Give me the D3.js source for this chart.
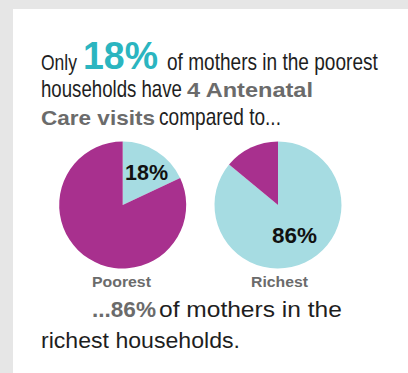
<!DOCTYPE html>
<html><head><meta charset="utf-8">
<script src="https://cdn.jsdelivr.net/npm/d3@7"></script>
<style>
html,body{margin:0;padding:0;background:#e6e6e6;}
svg{display:block;}
</style></head>
<body>
<script>
const groups = ["Poorest", "Richest"];
const values = [18, 86];
const colors = { yes: "#a6dce2", no: "#a8308e" };

const W = 408, H = 373;
const svg = d3.select("body").append("svg").attr("width", W).attr("height", H);
svg.append("rect").attr("width", W).attr("height", H).attr("fill", "#e6e6e6");
svg.append("rect").attr("x", 13).attr("y", 9).attr("width", W).attr("height", H).attr("fill", "#ffffff");

const sans = "'Liberation Sans',Arial,sans-serif";
const grey = "#6b6b6b";
const ink = "#1e1e1e";

// place text, scaled horizontally to a target width
function txt(s, x, y, size, w, opts = {}) {
  const g = svg.append("g");
  const t = g.append("text").attr("x", 0).attr("y", 0)
    .attr("font-family", sans).attr("font-size", size)
    .attr("font-weight", opts.bold ? "bold" : "normal")
    .attr("fill", opts.fill || ink)
    .text(s);
  const nat = t.node().getComputedTextLength();
  const sx = w ? w / nat : 1;
  const x0 = opts.anchor === "middle" ? x - (nat * sx) / 2 : x;
  g.attr("transform", `translate(${x0},${y}) scale(${sx},1)`);
  return t;
}

// Header (condensed look)
txt("Only", 41, 70, 23, 36);
txt(values[0] + "%", 83, 69, 38, 75, { bold: true, fill: "#2bb5c0" });
txt("of mothers in the poorest", 167, 70, 23, 211);
txt("households have", 41, 97, 23, 141);
txt("4 Antenatal", 187, 97, 20, 126, { bold: true, fill: grey });
txt("Care visits", 41, 125, 20, 114, { bold: true, fill: grey });
txt("compared to...", 159, 125, 23, 122);

// Pies
const r = 63.5;
const cx = d3.scalePoint().domain(groups).range([122.7, 278]);
const pie = d3.pie().sort(null).value(d => d.v);
const arc = d3.arc().innerRadius(0).outerRadius(r);

groups.forEach((g, i) => {
  const gg = svg.append("g").attr("transform", `translate(${cx(g)},205)`);
  const data = pie([{ k: "yes", v: values[i] }, { k: "no", v: 100 - values[i] }]);
  gg.selectAll("path").data(data).join("path").attr("d", arc).attr("fill", d => colors[d.data.k]);
});
txt(groups[0], 121.5, 287, 15.5, 59, { bold: true, fill: grey, anchor: "middle" });
txt(groups[1], 279.5, 287, 15.5, 57, { bold: true, fill: grey, anchor: "middle" });

txt(values[0] + "%", 146.5, 180, 22, 43, { bold: true, fill: "#111", anchor: "middle" });
txt(values[1] + "%", 294.5, 243, 22, 45, { bold: true, fill: "#111", anchor: "middle" });

// Footer
txt("..." + values[1] + "%", 92, 317, 22, 64, { bold: true, fill: grey });
txt("of mothers in the", 159, 317, 22, 183);
txt("richest households.", 41, 348, 22, 199);
</script>
</body></html>
